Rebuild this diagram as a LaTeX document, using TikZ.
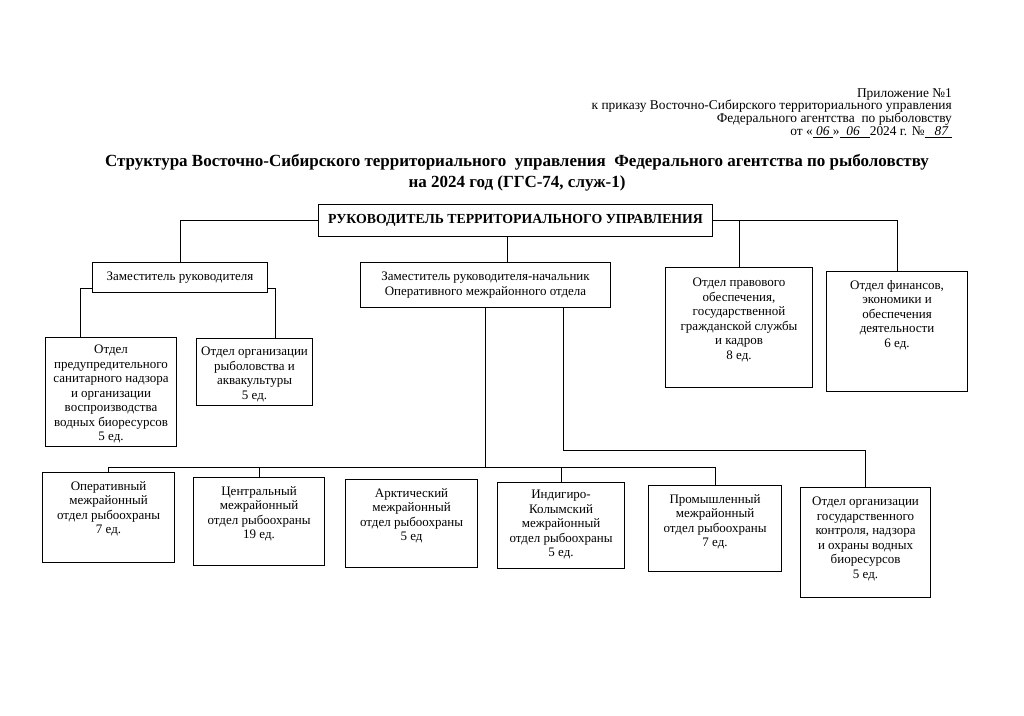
\documentclass[tikz,border=0pt]{standalone}
\usepackage{fontspec}
\setmainfont{Liberation Serif}
\usetikzlibrary{positioning,calc}
\tikzset{
  blok/.style={draw,line width=1.1pt,inner sep=0pt,anchor=north west},
  nadp/.style={align=center,inner sep=1pt,font=\fontsize{13}{14.5}\selectfont},
  svyaz/.style={line width=0.9pt},
}

\begin{document}
\begin{tikzpicture}[x=1pt,y=-1pt]
  \useasboundingbox (0,0) rectangle (1024,715);
  % shapka
  \node[anchor=north east,align=right,inner sep=0pt,font=\fontsize{13.4}{12.8}\selectfont] (prilozh) at (952,88)
    {Приложение №1\\
     к приказу Восточно-Сибирского территориального управления\\
     Федерального агентства\ \ по рыболовству\\
     от «\underline{\ \textit{06}\ }»\underline{\ \ \textit{06}\ \ \ }2024 г. №\underline{\ \ \ \textit{87}\ }};
  \node[align=center,inner sep=0pt,font=\fontsize{17}{21}\selectfont\bfseries] (zagl) at (517,173)
    {Структура Восточно-Сибирского территориального\ \ управления\ \ Федерального агентства по рыболовству\\
     на 2024 год (ГГС-74, служ-1)};
  % bloki
  \node[blok,minimum width=394pt,minimum height=32pt,font=\fontsize{13.8}{14}\selectfont\bfseries] (ruk) at (318,204)
    {РУКОВОДИТЕЛЬ ТЕРРИТОРИАЛЬНОГО УПРАВЛЕНИЯ};
  \node[nadp,blok,minimum width=175pt,minimum height=30pt] (zam) at (92,262) {Заместитель руководителя};
  \node[nadp,blok,minimum width=250pt,minimum height=45pt] (zamnach) at (360,262)
    {Заместитель руководителя-начальник\\Оперативного межрайонного отдела};
  \node[blok,minimum width=147pt,minimum height=120pt] (pravo) at (665,267) {};
  \node[blok,minimum width=141pt,minimum height=120pt] (fin) at (826,271) {};
  \node[blok,minimum width=131pt,minimum height=109pt] (predupr) at (45,337) {};
  \node[blok,minimum width=116pt,minimum height=67pt] (rybol) at (196,338) {};
  \node[blok,minimum width=132pt,minimum height=90pt] (B1) at (42,472) {};
  \node[blok,minimum width=131pt,minimum height=88pt] (B2) at (193,477) {};
  \node[blok,minimum width=132pt,minimum height=88pt] (B3) at (345,479) {};
  \node[blok,minimum width=127pt,minimum height=86pt] (B4) at (497,482) {};
  \node[blok,minimum width=133pt,minimum height=86pt] (B5) at (648,485) {};
  \node[blok,minimum width=130pt,minimum height=110pt] (B6) at (800,487) {};
  % teksty
  \node[nadp,anchor=north] (pravo-t) at ([yshift=-10pt]pravo.north)
    {Отдел правового\\обеспечения,\\государственной\\гражданской службы\\и кадров\\8 ед.};
  \node[nadp,anchor=north] (fin-t) at ([yshift=-8pt]fin.north)
    {Отдел финансов,\\экономики и\\обеспечения\\деятельности\\6 ед.};
  \node[nadp,anchor=north] (predupr-t) at ([yshift=-7pt]predupr.north)
    {Отдел\\предупредительного\\санитарного надзора\\и организации\\воспроизводства\\водных биоресурсов\\5 ед.};
  \node[nadp,anchor=north] (rybol-t) at ([yshift=-8pt]rybol.north)
    {Отдел организации\\рыболовства и\\аквакультуры\\5 ед.};
  \node[nadp,anchor=north] (B1-t) at ([yshift=-8pt]B1.north)
    {Оперативный\\межрайонный\\отдел рыбоохраны\\7 ед.};
  \node[nadp,anchor=north] (B2-t) at ([yshift=-8pt]B2.north)
    {Центральный\\межрайонный\\отдел рыбоохраны\\19 ед.};
  \node[nadp,anchor=north] (B3-t) at ([yshift=-8pt]B3.north)
    {Арктический\\межрайонный\\отдел рыбоохраны\\5 ед};
  \node[nadp,anchor=north] (B4-t) at ([yshift=-7pt]B4.north)
    {Индигиро-\\Колымский\\межрайонный\\отдел рыбоохраны\\5 ед.};
  \node[nadp,anchor=north] (B5-t) at ([yshift=-8pt]B5.north)
    {Промышленный\\межрайонный\\отдел рыбоохраны\\7 ед.};
  \node[nadp,anchor=north] (B6-t) at ([yshift=-9pt]B6.north)
    {Отдел организации\\государственного\\контроля, надзора\\и охраны водных\\биоресурсов\\5 ед.};
  % svyazi
  \coordinate (zn1) at ([xshift=22pt]zamnach.north);
  \coordinate (zl) at ([yshift=-11pt]zam.west);
  \coordinate (zr) at ([yshift=-11pt]zam.east);
  \coordinate (pr1) at ([xshift=-31pt]predupr.north);
  \coordinate (ry1) at ([xshift=21pt]rybol.north);
  \coordinate (zn2) at ([xshift=78pt]zamnach.south);
  \coordinate (shina) at (0,467);
  \coordinate (povorot) at (0,450);
  \draw[svyaz] (ruk.west) -| (zam.north);
  \draw[svyaz] (ruk.south -| zn1) -- (zn1);
  \draw[svyaz] (ruk.east) -| (fin.north);
  \draw[svyaz] (ruk.east -| pravo.north) -- (pravo.north);
  \draw[svyaz] (zl) -| (pr1);
  \draw[svyaz] (zr) -| (ry1);
  \draw[svyaz] (zamnach.south) -- (zamnach.south |- shina);
  \draw[svyaz] (B1.north) -- (B1.north |- shina) -- (B5.north |- shina) -- (B5.north);
  \foreach \b in {B2,B4}
    \draw[svyaz] (\b.north) -- (\b.north |- shina);
  \draw[svyaz] (zn2) -- (zn2 |- povorot) -| (B6.north);
\end{tikzpicture}
\end{document}
